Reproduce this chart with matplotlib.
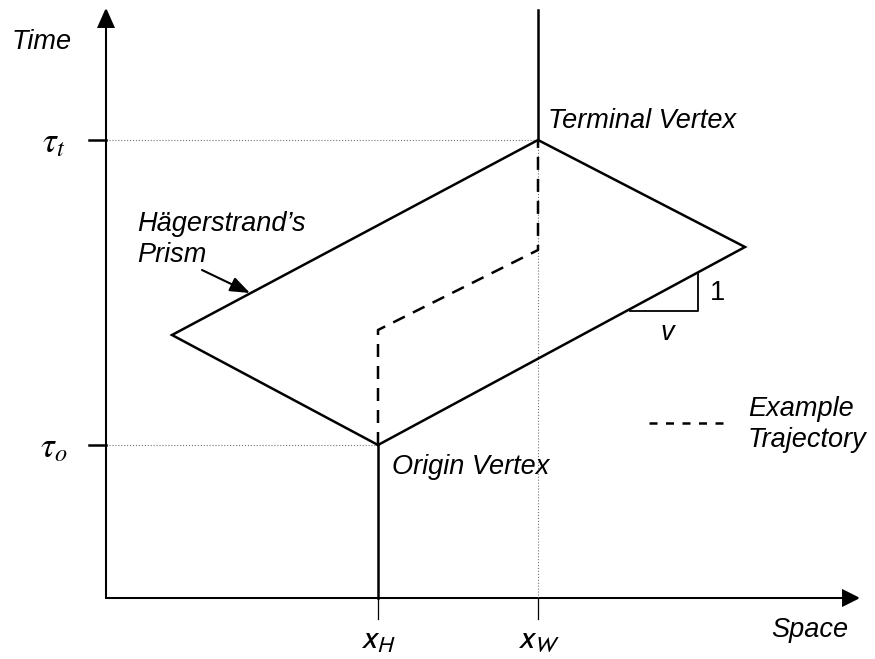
import matplotlib
matplotlib.use("Agg")
import matplotlib.pyplot as plt

plt.rcParams['font.family'] = ['Liberation Sans', 'DejaVu Sans']

# diagram values (space / time units)
x_H, x_W = 2.72, 4.32
tau_o, tau_t = 1.53, 4.58
space_max, time_max = 7.52, 5.88

# prism corners: origin, right, terminal, left
prism_x = [x_H, 6.39, x_W, 0.66, x_H]
prism_y = [tau_o, 3.51, tau_t, 2.63, tau_o]

# example trajectory
traj_x = [x_H, x_H, x_W, x_W]
traj_y = [tau_o, 2.68, 3.48, tau_t]

# slope triangle on the prism edge
slope_x = [5.24, 5.92, 5.92]
slope_y = [2.87, 2.87, 3.25]

LW = 1.8
FS = 19.5

fig = plt.figure(figsize=(8.75, 6.59), dpi=100)
ax = fig.add_axes([0, 0, 1, 1])
ax.set_xlim(-1.06, 7.69)
ax.set_ylim(-0.61, 5.98)
ax.axis('off')

# axes with arrows
ax.arrow(0, 0, space_max, 0, head_width=0.15, head_length=0.15,
         length_includes_head=True, fc='k', ec='k', lw=1.4)
ax.arrow(0, 0, 0, time_max, head_width=0.15, head_length=0.17,
         length_includes_head=True, fc='k', ec='k', lw=1.4)

# guide lines
ax.plot([0, x_W], [tau_t, tau_t], color='0.45', lw=0.8, ls=':')
ax.plot([0, x_H], [tau_o, tau_o], color='0.45', lw=0.8, ls=':')
ax.plot([x_W, x_W], [0, tau_t], color='0.45', lw=0.8, ls=':')

# ticks
for t in [tau_o, tau_t]:
    ax.plot([-0.17, 0], [t, t], color='k', lw=LW)
for x in [x_H, x_W]:
    ax.plot([x, x], [0, -0.21], color='k', lw=0.9)

# home / work stays
ax.plot([x_H, x_H], [0, tau_o], color='k', lw=LW)
ax.plot([x_W, x_W], [tau_t, time_max], color='k', lw=LW)

# prism
ax.plot(prism_x, prism_y, color='k', lw=LW, solid_joinstyle='miter')

# trajectory
ax.plot(traj_x, traj_y, color='k', lw=LW, ls=(0, (5.2, 3.6)))

# slope triangle
ax.plot(slope_x, slope_y, color='k', lw=1.3)
ax.text(6.12, 3.05, '1', fontsize=FS, ha='center', va='center')
ax.text(5.61, 2.65, 'v', fontsize=FS, style='italic', ha='center', va='center')

# legend for trajectory
ax.plot([5.43, 6.22], [1.75, 1.75], color='k', lw=LW, ls=(0, (3.2, 3.4)))
ax.text(6.42, 1.82, 'Example', fontsize=FS, style='italic', va='baseline')
ax.text(6.42, 1.51, 'Trajectory', fontsize=FS, style='italic', va='baseline')

# labels
ax.text(-0.94, 5.56, 'Time', fontsize=FS, style='italic', va='center')
ax.text(7.04, -0.39, 'Space', fontsize=FS, style='italic', ha='center',
        va='baseline')
ax.text(4.42, 4.70, 'Terminal Vertex', fontsize=FS, style='italic',
        va='baseline')
ax.text(2.86, 1.24, 'Origin Vertex', fontsize=FS, style='italic',
        va='baseline')
ax.text(0.31, 3.67, 'Hägerstrand’s', fontsize=FS, style='italic',
        va='baseline')
ax.text(0.31, 3.36, 'Prism', fontsize=FS, style='italic', va='baseline')
ax.annotate('', xy=(1.44, 3.05), xytext=(0.96, 3.28),
            arrowprops=dict(arrowstyle='-|>,head_length=1.2,head_width=0.45',
                            color='k', lw=1.5, shrinkA=0, shrinkB=0))

ax.text(-0.52, 4.55, r'$\tau_t$', fontsize=25, ha='center', va='center',
        math_fontfamily='stix')
ax.text(-0.52, 1.50, r'$\tau_o$', fontsize=25, ha='center', va='center',
        math_fontfamily='stix')
ax.text(x_H, -0.42, r'$x_H$', fontsize=24, ha='center', va='center',
        math_fontfamily='stixsans')
ax.text(x_W, -0.42, r'$x_W$', fontsize=24, ha='center', va='center',
        math_fontfamily='stixsans')

fig.savefig('out.png', dpi=100)
